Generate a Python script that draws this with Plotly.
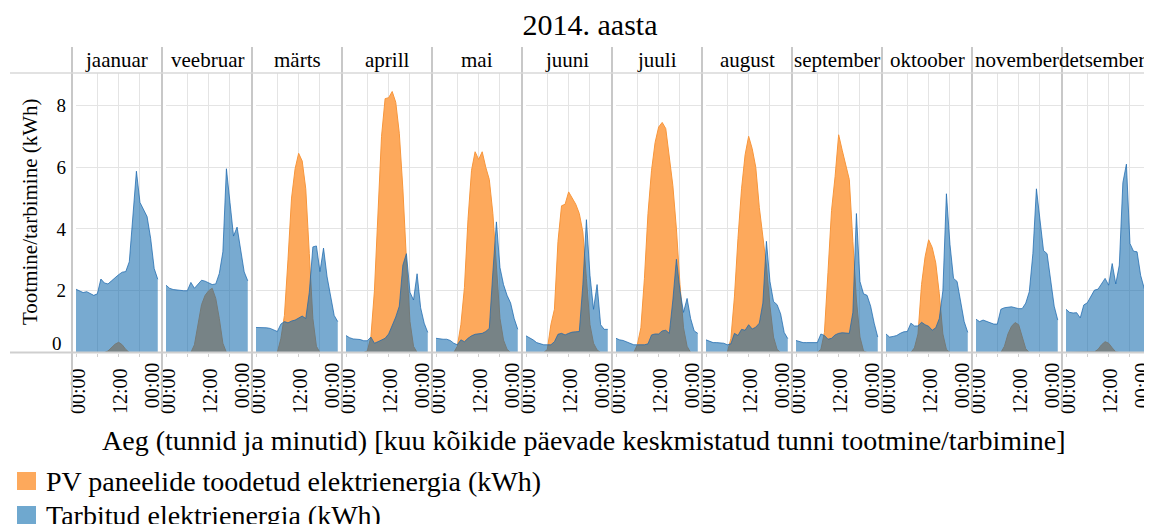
import plotly.graph_objects as go

# lehe vaikimisi 8px veeris arvestatud: joonis 1144x516, nihe 8px
W, H, OFF = 1144, 516, 8

# kuud ja tunnid
months = ["jaanuar", "veebruar", "märts", "aprill", "mai", "juuni",
          "juuli", "august", "september", "oktoober", "november", "detsember"]
hours = list(range(24))

# PV paneelide toodang (kWh), kuu keskmine tunni kaupa
pv_kwh = [
    [0, 0, 0, 0, 0, 0, 0, 0, 0, 0.05, 0.15, 0.27, 0.33, 0.25, 0.1, 0, 0, 0, 0, 0, 0, 0, 0, 0],
    [0, 0, 0, 0, 0, 0, 0, 0, 0.25, 0.95, 1.55, 1.85, 2.0, 2.08, 1.75, 1.1, 0.3, 0, 0, 0, 0, 0, 0, 0],
    [0, 0, 0, 0, 0, 0, 0, 0.45, 1.2, 3.0, 5.0, 5.95, 6.45, 6.2, 5.3, 3.2, 1.1, 0.2, 0, 0, 0, 0, 0, 0],
    [0, 0, 0, 0, 0, 0, 0.05, 0.5, 2.0, 4.5, 7.0, 8.22, 8.25, 8.45, 8.1, 7.1, 5.3, 3.0, 1.0, 0.2, 0, 0, 0, 0],
    [0, 0, 0, 0, 0, 0, 0.2, 0.9, 2.1, 4.3, 5.9, 6.5, 6.25, 6.5, 6.0, 5.6, 4.5, 2.7, 1.1, 0.4, 0.1, 0, 0, 0],
    [0, 0, 0, 0, 0, 0, 0.1, 0.9, 1.4, 3.6, 4.75, 4.8, 5.2, 5.0, 4.8, 4.5, 3.9, 2.4, 0.9, 0.3, 0.08, 0, 0, 0],
    [0, 0, 0, 0, 0, 0, 0.25, 0.8, 2.4, 4.5, 5.9, 6.8, 7.3, 7.45, 7.25, 6.4, 5.4, 4.0, 2.2, 0.8, 0.2, 0, 0, 0],
    [0, 0, 0, 0, 0, 0, 0, 0.45, 1.8, 3.7, 5.3, 6.4, 7.0, 6.6, 6.0, 4.7, 3.8, 2.8, 1.5, 0.5, 0.1, 0, 0, 0],
    [0, 0, 0, 0, 0, 0, 0, 0.1, 0.65, 2.6, 4.6, 5.7, 7.05, 6.55, 6.1, 5.6, 3.6, 1.7, 0.5, 0.05, 0, 0, 0, 0],
    [0, 0, 0, 0, 0, 0, 0, 0, 0.15, 0.6, 2.2, 3.1, 3.65, 3.4, 2.9, 1.9, 0.6, 0.1, 0, 0, 0, 0, 0, 0],
    [0, 0, 0, 0, 0, 0, 0, 0, 0.2, 0.6, 0.85, 0.97, 0.9, 0.5, 0.12, 0, 0, 0, 0, 0, 0, 0, 0, 0],
    [0, 0, 0, 0, 0, 0, 0, 0, 0.02, 0.1, 0.25, 0.35, 0.3, 0.15, 0.02, 0, 0, 0, 0, 0, 0, 0, 0, 0],
]

# tarbitud elektrienergia (kWh)
tarb_kwh = [
    [2.05, 2.0, 1.94, 1.97, 1.92, 1.85, 1.9, 2.38, 2.25, 2.22, 2.32, 2.43, 2.52, 2.6, 2.62, 2.94, 4.4, 5.87, 4.86, 4.65, 4.4, 3.7, 2.72, 2.37],
    [2.18, 2.08, 2.04, 2.02, 2.0, 2.0, 2.0, 2.27, 2.08, 2.22, 2.34, 2.31, 2.26, 2.2, 2.22, 2.56, 3.26, 5.95, 4.86, 3.77, 4.06, 3.3, 2.61, 2.32],
    [0.81, 0.81, 0.8, 0.8, 0.78, 0.74, 0.68, 0.92, 1.0, 0.96, 1.02, 1.05, 1.12, 1.18, 1.1, 1.95, 3.42, 3.45, 2.62, 3.38, 2.45, 1.75, 1.2, 1.0],
    [0.55, 0.48, 0.44, 0.43, 0.42, 0.38, 0.38, 0.5, 0.3, 0.35, 0.4, 0.46, 0.6, 0.88, 1.15, 1.5, 2.83, 3.2, 1.95, 1.7, 2.55, 1.45, 0.95, 0.65],
    [0.46, 0.44, 0.43, 0.43, 0.39, 0.3, 0.25, 0.41, 0.35, 0.46, 0.54, 0.59, 0.6, 0.62, 0.68, 0.78, 2.6, 4.23, 2.75, 2.2, 1.85, 1.6, 1.1, 0.75],
    [0.54, 0.48, 0.41, 0.32, 0.28, 0.25, 0.25, 0.25, 0.35, 0.59, 0.62, 0.57, 0.62, 0.66, 0.67, 0.68, 2.2, 4.3, 2.5, 1.4, 2.2, 0.9, 0.75, 0.75],
    [0.46, 0.41, 0.39, 0.35, 0.3, 0.25, 0.25, 0.25, 0.25, 0.28, 0.57, 0.6, 0.6, 0.7, 0.72, 0.62, 1.7, 3.02, 2.0, 1.3, 1.75, 1.1, 0.7, 0.62],
    [0.41, 0.36, 0.32, 0.32, 0.32, 0.3, 0.25, 0.28, 0.62, 0.55, 0.75, 0.72, 0.9, 0.76, 0.82, 0.95, 1.6, 3.6, 2.3, 1.65, 1.55, 1.25, 0.65, 0.45],
    [0.39, 0.35, 0.32, 0.32, 0.32, 0.32, 0.32, 0.6, 0.55, 0.43, 0.46, 0.57, 0.62, 0.64, 0.62, 0.62, 1.3, 4.5, 2.3, 1.9, 1.85, 1.5, 0.95, 0.5],
    [0.6, 0.5, 0.52, 0.55, 0.62, 0.67, 0.68, 0.95, 0.86, 0.86, 0.98, 0.9, 0.85, 0.72, 0.8, 1.1, 2.0, 5.14, 3.5, 2.4, 2.3, 1.6, 1.0, 0.65],
    [1.08, 1.0, 1.05, 1.0, 0.95, 0.92, 0.92, 1.4, 1.45, 1.46, 1.48, 1.45, 1.42, 1.42, 1.6, 1.97, 3.2, 5.3, 4.2, 3.3, 3.2, 2.4, 1.5, 1.05],
    [1.4, 1.3, 1.28, 1.29, 1.12, 1.54, 1.61, 1.8, 2.02, 2.05, 2.24, 2.4, 2.18, 2.88, 2.22, 2.83, 5.5, 6.1, 3.53, 3.28, 3.26, 2.5, 2.08, 1.7],
]

y_ticks = [0, 2, 4, 6, 8]
y_ticktext = ["", "2", "4", "6", "8"]
x_tickvals = [0, 6, 12, 18, 24]
x_ticktext = ["00:00", "", "12:00", "", ""]

legend_names = ["PV paneelide toodetud elektrienergia (kWh)", "Tarbitud elektrienergia (kWh)"]

FONT = "Liberation Serif"
ORANGE_FILL = "#FDA95C"
ORANGE_LINE = "#F7963C"
BLUE_FILL = "rgba(10,100,170,0.55)"
BLUE_LINE = "rgba(30,105,175,0.75)"
BLUE_SWATCH = "#6FA8CF"
GRID = "#e4e4e4"
BORDER = "#c8c8c8"


def fx(px):
    return (px - OFF) / W


def fy(py):
    return 1 - (py - OFF) / H


fig = go.Figure()

# paneelide asukoht pikslites (akna koordinaadid)
left0, pitch, pw = 76, 90, 85.3
top, bottom = 73, 352.5
tickfont_x = dict(family=FONT, size=20, color="black")
tickfont_y = dict(family=FONT, size=19, color="black")

for i, month in enumerate(months):
    n = "" if i == 0 else str(i + 1)
    fig.add_trace(go.Scatter(
        x=hours, y=pv_kwh[i], mode="lines", fill="tozeroy",
        fillcolor=ORANGE_FILL, line=dict(color=ORANGE_LINE, width=1),
        xaxis="x" + n, yaxis="y" + n, showlegend=False, hoverinfo="skip"))
    fig.add_trace(go.Scatter(
        x=hours, y=tarb_kwh[i], mode="lines", fill="tozeroy",
        fillcolor=BLUE_FILL, line=dict(color=BLUE_LINE, width=1),
        xaxis="x" + n, yaxis="y" + n, showlegend=False, hoverinfo="skip"))

    x0 = left0 + pitch * i
    fig.layout["xaxis" + n] = dict(
        domain=[fx(x0), fx(x0 + pw)], range=[0, 24], anchor="y" + n, automargin=False,
        tickmode="array", tickvals=x_tickvals, ticktext=x_ticktext,
        tickangle=-90, tickfont=tickfont_x, ticklabelstandoff=4, ticklabelshift=2,
        showgrid=True, gridcolor=GRID, gridwidth=1, zeroline=False,
        showline=False, ticks="outside", ticklen=3, tickcolor="#d0d0d0",
        fixedrange=True)
    fig.layout["yaxis" + n] = dict(
        domain=[fy(bottom), fy(top)], range=[0, 9.05], anchor="x" + n,
        automargin=False, tickmode="array", tickvals=y_ticks,
        ticktext=y_ticktext, showticklabels=(i == 0), tickfont=tickfont_y,
        ticklabelstandoff=9,
        showgrid=True, gridcolor=GRID, gridwidth=1, zeroline=False,
        showline=False, ticks="", fixedrange=True)

    # kuu nimi päises (viimane veidi vasakule, et mahuks aknasse)
    cx = 72 + pitch * i + 45 - (5 if i == 11 else 0)
    fig.add_annotation(
        x=fx(cx), y=fy(60), xref="paper", yref="paper",
        text=month, showarrow=False, xanchor="center", yanchor="middle",
        font=dict(family=FONT, size=21, color="black"))
    # viimane silt (järgmise päeva 00:00), nihutatud paneeli sisse
    fig.add_annotation(
        x=24, xref="x" + n, y=fy(361), yref="paper", text="00:00", textangle=-90,
        showarrow=False, xanchor="center", yanchor="top", xshift=-9,
        font=tickfont_x, borderpad=0)

# y-telje "0" nihutatud ülespoole
fig.add_annotation(
    x=0, xref="x", y=0, yref="y", text="0", showarrow=False,
    xanchor="right", yanchor="middle", xshift=-12, yshift=9, font=tickfont_y)

fig.add_annotation(
    x=fx(30), y=fy(212), xref="paper", yref="paper", text="Tootmine/tarbimine (kWh)",
    textangle=-90, showarrow=False, xanchor="center", yanchor="middle",
    font=dict(family=FONT, size=21, color="black"))

fig.add_annotation(
    x=fx(583), y=fy(440), xref="paper", yref="paper",
    text="Aeg (tunnid ja minutid) [kuu kõikide päevade keskmistatud tunni tootmine/tarbimine]",
    showarrow=False, xanchor="center", yanchor="middle",
    font=dict(family=FONT, size=28, color="black"))

# raamjooned
shapes = []
for i in range(12):
    xl = 72 + pitch * i
    shapes.append(dict(type="line", xref="paper", yref="paper", x0=fx(xl), x1=fx(xl),
                       y0=fy(47), y1=fy(410), line=dict(color=BORDER, width=2)))
shapes.append(dict(type="line", xref="paper", yref="paper", x0=fx(10), x1=1,
                   y0=fy(top), y1=fy(top), line=dict(color="#d8d8d8", width=1.5)))
shapes.append(dict(type="line", xref="paper", yref="paper", x0=fx(10), x1=1,
                   y0=fy(bottom), y1=fy(bottom), line=dict(color="#cfcfcf", width=2)))

# legend
for k, (name, col) in enumerate(zip(legend_names, [ORANGE_FILL, BLUE_SWATCH])):
    cy = 481 + 34 * k
    shapes.append(dict(type="rect", xref="paper", yref="paper", x0=fx(17), x1=fx(36),
                       y0=fy(cy - 9), y1=fy(cy + 9), fillcolor=col, line=dict(width=0)))
    fig.add_annotation(
        x=fx(44), y=fy(cy), xref="paper", yref="paper", text=name,
        showarrow=False, xanchor="left", yanchor="middle",
        font=dict(family=FONT, size=28, color="black"))

fig.update_layout(
    width=W, height=H, margin=dict(l=0, r=0, t=0, b=0, autoexpand=False),
    paper_bgcolor="white", plot_bgcolor="white",
    font=dict(family=FONT, color="black"),
    title=dict(text="2014. aasta", x=fx(590), y=fy(24), xanchor="center", yanchor="middle",
               font=dict(family=FONT, size=30, color="black")),
    shapes=shapes,
    showlegend=False,
)

fig.write_html("out.html")
